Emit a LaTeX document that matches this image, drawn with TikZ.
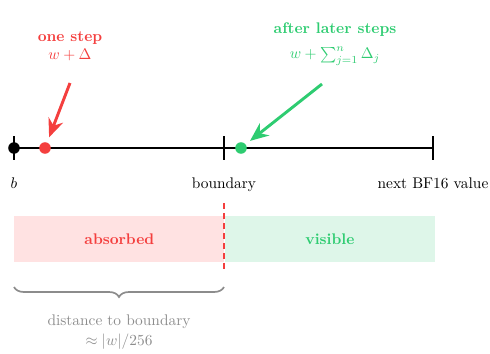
\documentclass[tikz,border=0pt]{standalone}
\usepackage{amsmath,amssymb}
\usetikzlibrary{positioning}
\usetikzlibrary{calc}
\usetikzlibrary{arrows.meta}
\usetikzlibrary{decorations.pathreplacing}

\definecolor{stepred}{RGB}{244,63,62}
\definecolor{stepgreen}{RGB}{46,204,113}
\definecolor{absfill}{RGB}{255,226,226}
\definecolor{visfill}{RGB}{222,246,233}
\definecolor{notegray}{RGB}{140,140,140}

\begin{document}
\begin{tikzpicture}[
        x=0.65pt, y=-0.65pt,
        axis/.style={line width=1.9pt, black},
        tickmark/.style={line width=1.9pt, black},
        dot/.style={circle, inner sep=0pt, minimum size=7.5pt},
        pointer/.style={line width=1.9pt, -{Stealth[length=12pt,width=10pt]},
                        shorten >=3.5pt},
        marklabel/.style={text height=1.6ex, text depth=0.25ex},
        zone/.style={minimum width=136.5pt, minimum height=30pt,
                     inner sep=0pt, font=\bfseries},
        brace/.style={decorate, decoration={brace, mirror, amplitude=6.5pt},
                      notegray, line width=1.1pt}
    ]

    \useasboundingbox (0,0) rectangle (490,354);

    % ------- number line -------
    \coordinate (b) at (14,148);
    \coordinate (bd) at (224,148);
    \coordinate (nx) at (433,148);
    \draw[axis] (b) -- (nx);
    \foreach \p in {b,bd,nx}
        \draw[tickmark] ($(\p)+(0,-12)$) -- ($(\p)+(0,12)$);

    \node[dot, fill=black] (db) at (b) {};
    \node[dot, fill=stepred] (dr) at (45,148) {};
    \node[dot, fill=stepgreen] (dg) at (241,148) {};

    \node[marklabel, below=16pt of b] (lb) {$b$};
    \node[marklabel, below=16pt of bd] (lbd) {boundary};
    \node[marklabel, below=16pt of nx] (lnx) {next BF16 value};

    % ------- step labels and arrows -------
    \node[text=stepred, font=\bfseries] (one) at (70,38) {one step};
    \node[text=stepred] (onef) at (70,55) {$w+\Delta$};
    \node[text=stepgreen, font=\bfseries] (later) at (335,30) {after later steps};
    \node[text=stepgreen] (laterf) at (335,56) {$w+\sum_{j=1}^{n}\Delta_j$};

    \coordinate (rs) at (70,83);
    \coordinate (gs) at (322,84);
    \draw[pointer, stepred] (rs) -- (dr);
    \draw[pointer, stepgreen] (gs) -- (dg);

    % ------- absorbed / visible zones -------
    \node[zone, fill=absfill, text=stepred, anchor=north west] (abs) at (14,216) {absorbed};
    \node[zone, fill=visfill, text=stepgreen, right=0pt of abs] (vis) {visible};

    \coordinate (cuttop) at (224,203);
    \coordinate (cutbot) at (224,270);
    \draw[stepred, line width=1.2pt, dash pattern=on 4pt off 2.5pt] (cuttop) -- (cutbot);

    % ------- distance brace -------
    \coordinate (bl) at (14,287);
    \coordinate (br) at (224,287);
    \draw[brace] (bl) -- (br);
    \node[text=notegray, align=center] (dist) at (119,332)
        {distance to boundary\\[1pt] $\approx |w|/256$};

\end{tikzpicture}
\end{document}
